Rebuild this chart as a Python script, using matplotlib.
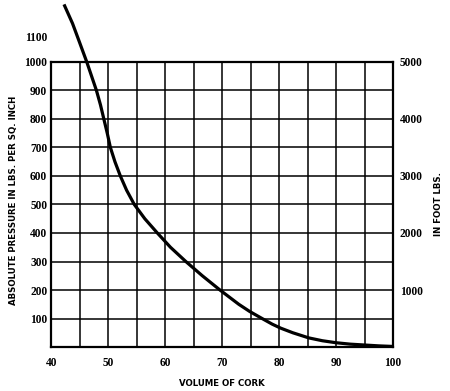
import matplotlib
matplotlib.use("Agg")
import matplotlib.pyplot as plt
import numpy as np

# volume of cork vs absolute pressure
volume = [42.2, 43.7, 44.8, 46.2, 47.05, 47.9, 48.6, 49.2, 49.8, 50.35,
          51.15, 52.1, 53.2, 54.55, 56.4, 58.6, 60.9, 63.6, 66.5, 69.6,
          72.9, 74.8, 77.0, 78.8, 80.3, 82.4, 85.2, 87.6, 90.0, 92.5,
          95.0, 97.5, 100.0]
pressure = [1202, 1135, 1076, 1000, 950, 900, 850, 800, 750, 700,
            650, 600, 550, 500, 450, 400, 350, 300, 250, 200,
            150, 125, 100, 80, 66, 50, 32, 22, 15, 10,
            7, 4, 2]

x_ticks = [40, 50, 60, 70, 80, 90, 100]
y_ticks = [100, 200, 300, 400, 500, 600, 700, 800, 900, 1000]
right_ticks = [1000, 2000, 3000, 4000, 5000]

num_font = dict(family="Liberation Serif", weight="bold", size=8.3)
lab_font = dict(family="DejaVu Sans", weight="bold", size=6.2)

fig = plt.figure(figsize=(4.5, 3.91), dpi=100)
ax = fig.add_axes([0.1144, 0.1125, 0.7589, 0.729])

ax.set_xlim(40, 100)
ax.set_ylim(0, 1000)
ax.set_xticks(np.arange(40, 101, 5))
ax.set_yticks(np.arange(0, 1001, 100))
ax.grid(True, color="black", linewidth=1.1)
ax.set_xticklabels([str(v) if v in x_ticks else "" for v in np.arange(40, 101, 5)], **num_font)
ax.set_yticklabels([str(v) if v in y_ticks else "" for v in np.arange(0, 1001, 100)], **num_font)
ax.tick_params(length=0, pad=3)
ax.tick_params(axis="x", pad=7)
for s in ax.spines.values():
    s.set_linewidth(1.6)

ax.text(-0.012, 1085, "1100", transform=ax.get_yaxis_transform(),
        ha="right", va="center", **num_font)

ax.plot(volume, pressure, color="black", linewidth=2.3, clip_on=False,
        solid_capstyle="butt", solid_joinstyle="round", zorder=5)

ax2 = ax.twinx()
ax2.set_ylim(0, 5000)
ax2.set_yticks(right_ticks)
ax2.set_yticklabels([str(v) for v in right_ticks], **num_font)
ax2.tick_params(length=0, pad=5)
for s in ax2.spines.values():
    s.set_visible(False)

fig.text(0.031, 0.488, "ABSOLUTE PRESSURE IN LBS. PER SQ. INCH", rotation=90,
         ha="center", va="center", **lab_font)
fig.text(0.975, 0.478, "IN FOOT LBS.", rotation=90,
         ha="center", va="center", **lab_font)
fig.text(0.493, 0.02, "VOLUME OF CORK", ha="center", va="center", **lab_font)

fig.savefig("out.png", dpi=100)
